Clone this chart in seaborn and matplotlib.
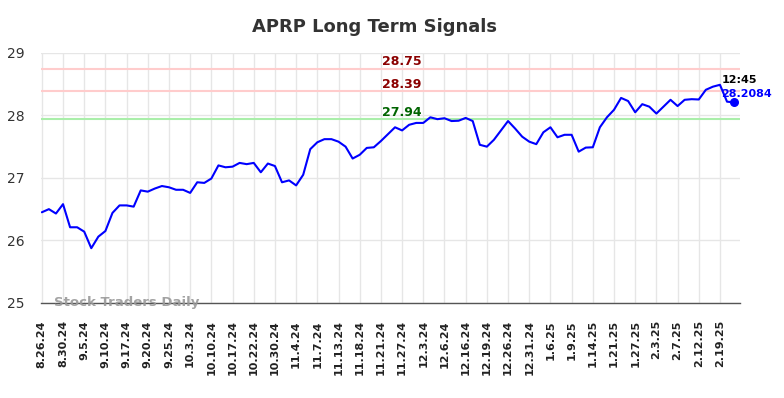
import matplotlib
matplotlib.use("Agg")
import matplotlib.pyplot as plt
import seaborn as sns
import pandas as pd
import numpy as np

title = "APRP Long Term Signals"
tick_labels = ["8.26.24", "8.30.24", "9.5.24", "9.10.24", "9.17.24", "9.20.24", "9.25.24",
               "10.3.24", "10.10.24", "10.17.24", "10.22.24", "10.30.24", "11.4.24", "11.7.24",
               "11.13.24", "11.18.24", "11.21.24", "11.27.24", "12.3.24", "12.6.24", "12.16.24",
               "12.19.24", "12.26.24", "12.31.24", "1.6.25", "1.9.25", "1.14.25", "1.21.25",
               "1.27.25", "2.3.25", "2.7.25", "2.12.25", "2.19.25"]
prices = [26.45, 26.50, 26.43, 26.58, 26.21, 26.21, 26.14, 25.875, 26.06, 26.15,
          26.44, 26.56, 26.56, 26.54, 26.80, 26.78, 26.83, 26.87, 26.85, 26.81,
          26.81, 26.76, 26.93, 26.92, 26.99, 27.20, 27.17, 27.18, 27.24, 27.22,
          27.24, 27.09, 27.23, 27.19, 26.93, 26.96, 26.88, 27.05, 27.46, 27.57,
          27.62, 27.62, 27.58, 27.50, 27.31, 27.37, 27.48, 27.49, 27.59, 27.70,
          27.81, 27.76, 27.85, 27.88, 27.88, 27.97, 27.94, 27.955, 27.91, 27.915,
          27.96, 27.91, 27.53, 27.50, 27.61, 27.76, 27.91, 27.79, 27.66, 27.58,
          27.54, 27.73, 27.81, 27.65, 27.69, 27.69, 27.42, 27.485, 27.49, 27.81,
          27.97, 28.09, 28.28, 28.23, 28.05, 28.18, 28.14, 28.03, 28.14, 28.25,
          28.15, 28.25, 28.26, 28.255, 28.41, 28.46, 28.49, 28.22, 28.2084]
signal_levels = [28.75, 28.39, 27.94]
signal_labels = ["28.75", "28.39", "27.94"]
last_time = "12:45"
last_value = "28.2084"

sns.set_style("whitegrid")
plt.rcParams['font.family'] = ['DejaVu Sans']

df = pd.DataFrame({"idx": np.arange(len(prices)), "price": prices})

fig = plt.figure(figsize=(7.84, 3.98), dpi=100)
ax = fig.add_axes([0.052, 0.239, 0.892, 0.628])

line_colors = ["#ffcccc", "#ffcccc", "#aaeeaa"]
text_colors = ["#8b0000", "#8b0000", "#006400"]
for lvl, lab, lc, tc in zip(signal_levels, signal_labels, line_colors, text_colors):
    ax.axhline(lvl, color=lc, lw=1.5, zorder=1)
    ax.text(51, lvl + 0.005, lab, color=tc, fontsize=9, fontweight="bold",
            ha="center", va="bottom", zorder=3)

sns.lineplot(data=df, x="idx", y="price", ax=ax, color="#0000ff", lw=1.5, zorder=4)
ax.scatter([df["idx"].iloc[-1]], [prices[-1]], color="#0000ff", s=30, zorder=5)
ax.text(96.2, 28.49, last_time, color="black", fontsize=8, fontweight="bold",
        ha="left", va="bottom")
ax.text(96.2, 28.27, last_value, color="#0000ff", fontsize=8, fontweight="bold",
        ha="left", va="bottom")

ax.text(1.7, 25.0, "Stock Traders Daily", color="#999999", fontsize=9.5,
        fontweight="bold", ha="left", va="center", alpha=0.9)

ax.set_xlim(-0.15, 98.85)
ax.set_ylim(25, 29)
ax.set_yticks([25, 26, 27, 28, 29])
ax.set_xticks(np.arange(0, len(tick_labels) * 3, 3))
ax.set_xticklabels(tick_labels, rotation=90, fontsize=8, fontweight="bold")
ax.tick_params(axis="y", labelsize=10, colors="#333333", pad=8)
ax.tick_params(axis="x", colors="#222222", pad=9)
ax.set_xlabel("")
ax.set_ylabel("")
ax.grid(True, color="#e6e6e6", lw=1)
for s in ["left", "right", "top"]:
    ax.spines[s].set_visible(False)
ax.spines["bottom"].set_color("#555555")
ax.spines["bottom"].set_linewidth(1)

fig.suptitle(title, x=0.478, y=0.955, fontsize=13, fontweight="bold", color="#333333")

fig.savefig("out.png", dpi=100)
